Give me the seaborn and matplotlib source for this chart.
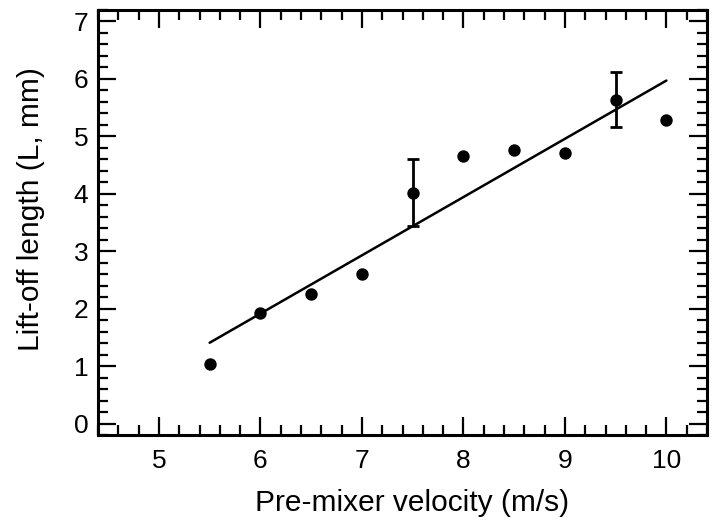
import numpy as np
import pandas as pd
import matplotlib
matplotlib.use("Agg")
import matplotlib.pyplot as plt
from matplotlib.ticker import MultipleLocator
import seaborn as sns

velocity = [5.5, 6.0, 6.5, 7.0, 7.5, 8.0, 8.5, 9.0, 9.5, 10.0]
liftoff = [1.03, 1.93, 2.25, 2.61, 4.02, 4.65, 4.76, 4.71, 5.64, 5.29]
err_velocity = [7.5, 9.5]
err_liftoff = [4.02, 5.64]
err_size = [0.58, 0.48]

xticks = [5, 6, 7, 8, 9, 10]
yticks = [0, 1, 2, 3, 4, 5, 6, 7]

sns.set_theme(style="ticks")
plt.rcParams['font.family'] = ['Liberation Sans', 'DejaVu Sans']

df = pd.DataFrame({"v": velocity, "L": liftoff})

fig = plt.figure(figsize=(7.23, 5.21), dpi=100)
ax = fig.add_axes([98/723, 1-435/521, (707-98)/723, (435-10)/521])

sns.regplot(data=df, x="v", y="L", ax=ax, scatter=False, ci=None, truncate=True,
            line_kws=dict(color="black", lw=1.8))
ax.errorbar(err_velocity, err_liftoff, yerr=err_size, fmt="none", ecolor="black",
            elinewidth=2.0, capsize=4.5, capthick=2.0, zorder=3)
sns.scatterplot(data=df, x="v", y="L", ax=ax, color="black", s=80, edgecolor="black",
                linewidth=0, zorder=4)

ax.set_xlim(4.4, 10.4)
ax.set_ylim(-0.2, 7.2)
ax.set_xticks(xticks)
ax.set_yticks(yticks)
ax.xaxis.set_minor_locator(MultipleLocator(0.2))
ax.yaxis.set_minor_locator(MultipleLocator(0.2))
ax.tick_params(which="both", direction="in", top=True, right=True, color="black")
ax.tick_params(which="major", length=13, width=1.6, labelsize=19, labelcolor="black")
ax.tick_params(which="minor", length=7, width=1.6)
ax.tick_params(axis="x", which="major", pad=10)
ax.tick_params(axis="y", which="major", pad=7)
for sp in ax.spines.values():
    sp.set_visible(True)
    sp.set_linewidth(2.2)
    sp.set_color("black")

ax.set_xlabel("Pre-mixer velocity (m/s)", fontsize=21.5, color="black")
ax.set_ylabel("Lift-off length (L, mm)", fontsize=21.5, color="black")
ax.xaxis.set_label_coords((412-98)/609, -(503-435)/425)
ax.yaxis.set_label_coords(-(98-31)/609, (435-209)/425)
ax.xaxis.label.set_va("center")
ax.yaxis.label.set_va("center")
ax.grid(False)

fig.savefig("out.png", dpi=100)
